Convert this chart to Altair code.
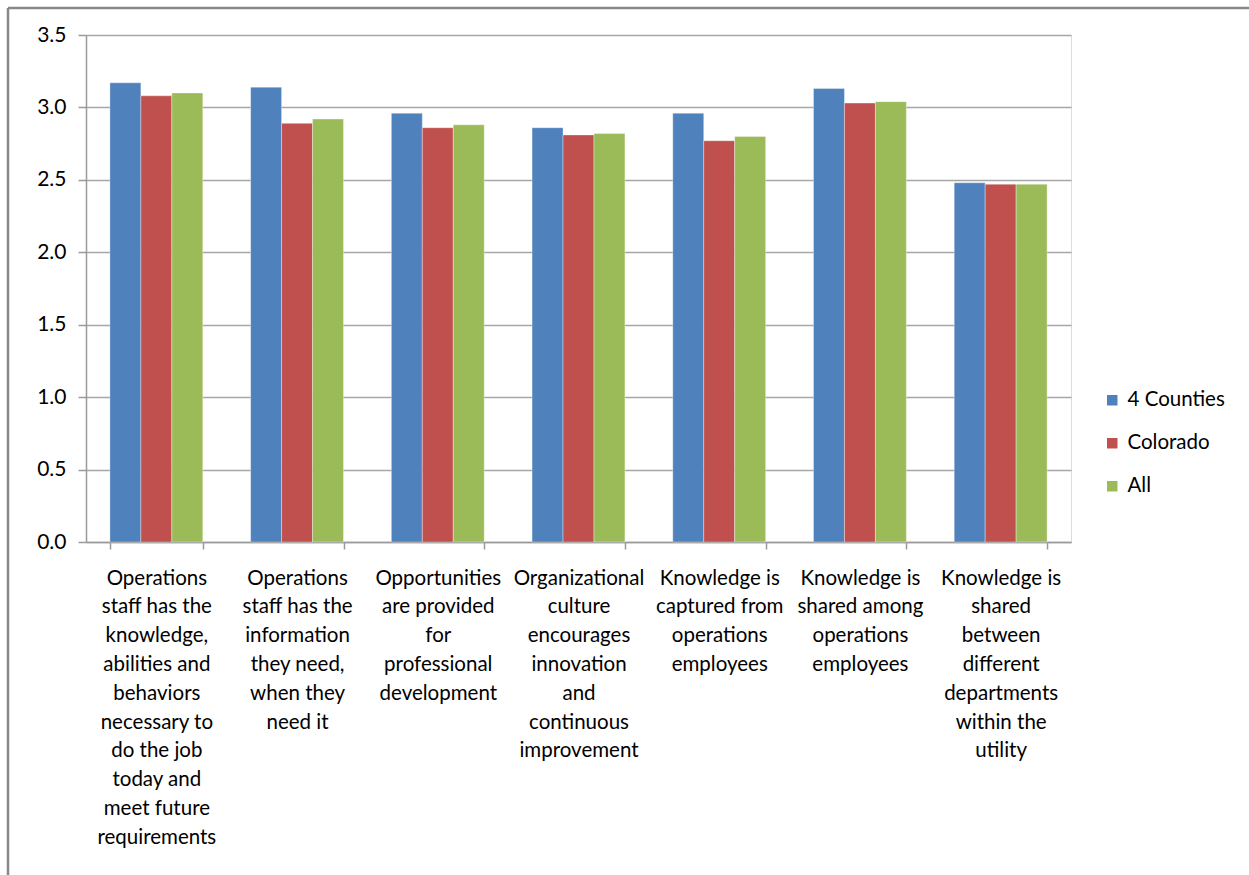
import altair as alt
import pandas as pd

categories = [
    "Operations\nstaff has the\nknowledge,\nabilities and\nbehaviors\nnecessary to\ndo the job\ntoday and\nmeet future\nrequirements",
    "Operations\nstaff has the\ninformation\nthey need,\nwhen they\nneed it",
    "Opportunities\nare provided\nfor\nprofessional\ndevelopment",
    "Organizational\nculture\nencourages\ninnovation\nand\ncontinuous\nimprovement",
    "Knowledge is\ncaptured from\noperations\nemployees",
    "Knowledge is\nshared among\noperations\nemployees",
    "Knowledge is\nshared\nbetween\ndifferent\ndepartments\nwithin the\nutility",
]
series = ["4 Counties", "Colorado", "All"]
colors = ["#4F81BD", "#C0504D", "#9BBB59"]
counties4 = [3.17, 3.14, 2.96, 2.86, 2.96, 3.13, 2.48]
colorado = [3.08, 2.89, 2.86, 2.81, 2.77, 3.03, 2.47]
all_vals = [3.10, 2.92, 2.88, 2.82, 2.80, 3.04, 2.47]

rows = []
for i, c in enumerate(categories):
    for s, vals in zip(series, [counties4, colorado, all_vals]):
        rows.append({"cat": c, "series": s, "value": vals[i]})
df = pd.DataFrame(rows)

FONT = "Lato"

bars = alt.Chart(df).mark_bar(stroke="#ffffff", strokeOpacity=0.35, strokeWidth=1).encode(
    x=alt.X("cat:N", sort=categories, title=None,
            scale=alt.Scale(paddingInner=0.34, paddingOuter=0.17),
            axis=alt.Axis(labelAngle=0, labelExpr="split(datum.label, '\\n')",
                          labelFont=FONT, labelFontSize=20.5, labelColor="#000000",
                          labelLineHeight=28.8, labelPadding=19, labelAlign="center",
                          labelBaseline="top", labelLimit=0,
                          tickBand="extent", tickSize=7, tickColor="#9a9a9a", tickWidth=1.5,
                          domainColor="#9a9a9a", domainWidth=1.5, grid=False)),
    xOffset=alt.XOffset("series:N", sort=series, scale=alt.Scale(paddingInner=0, paddingOuter=0)),
    y=alt.Y("value:Q", title=None,
            scale=alt.Scale(domain=[0, 3.5], nice=False),
            axis=alt.Axis(values=[0, 0.5, 1.0, 1.5, 2.0, 2.5, 3.0, 3.5], format=".1f",
                          labelFont=FONT, labelFontSize=21, labelColor="#000000",
                          labelPadding=12, tickSize=8, tickColor="#9a9a9a", tickWidth=1.5,
                          domainColor="#9a9a9a", domainWidth=1.5,
                          gridColor="#a6a6a6", gridWidth=1.5)),
    color=alt.Color("series:N", sort=series,
                    scale=alt.Scale(domain=series, range=colors),
                    legend=alt.Legend(title=None, orient="none", legendX=1016, legendY=355,
                                      symbolType="square", symbolSize=110, symbolStrokeWidth=0,
                                      labelFont=FONT, labelFontSize=20.5, labelColor="#000000",
                                      rowPadding=22, labelOffset=5)),
)

frame = alt.Chart(pd.DataFrame({"k": [0]})).mark_rule(color="#888888", strokeWidth=2.5, clip=False).encode(
    x=alt.value(-78), x2=alt.value(1200), y=alt.value(-27)
)
frame2 = alt.Chart(pd.DataFrame({"k": [0]})).mark_rule(color="#888888", strokeWidth=2.5, clip=False).encode(
    x=alt.value(-78), y=alt.value(-27), y2=alt.value(900)
)

chart = alt.layer(bars, frame, frame2).properties(
    width=985, height=507,
    autosize=alt.AutoSizeParams(type="none"),
    padding={"left": 86, "top": 35, "right": 178, "bottom": 333},
).configure_view(stroke=None).configure(background="#ffffff")

chart.save("out.html", embed_options={"renderer": "svg", "actions": False})
